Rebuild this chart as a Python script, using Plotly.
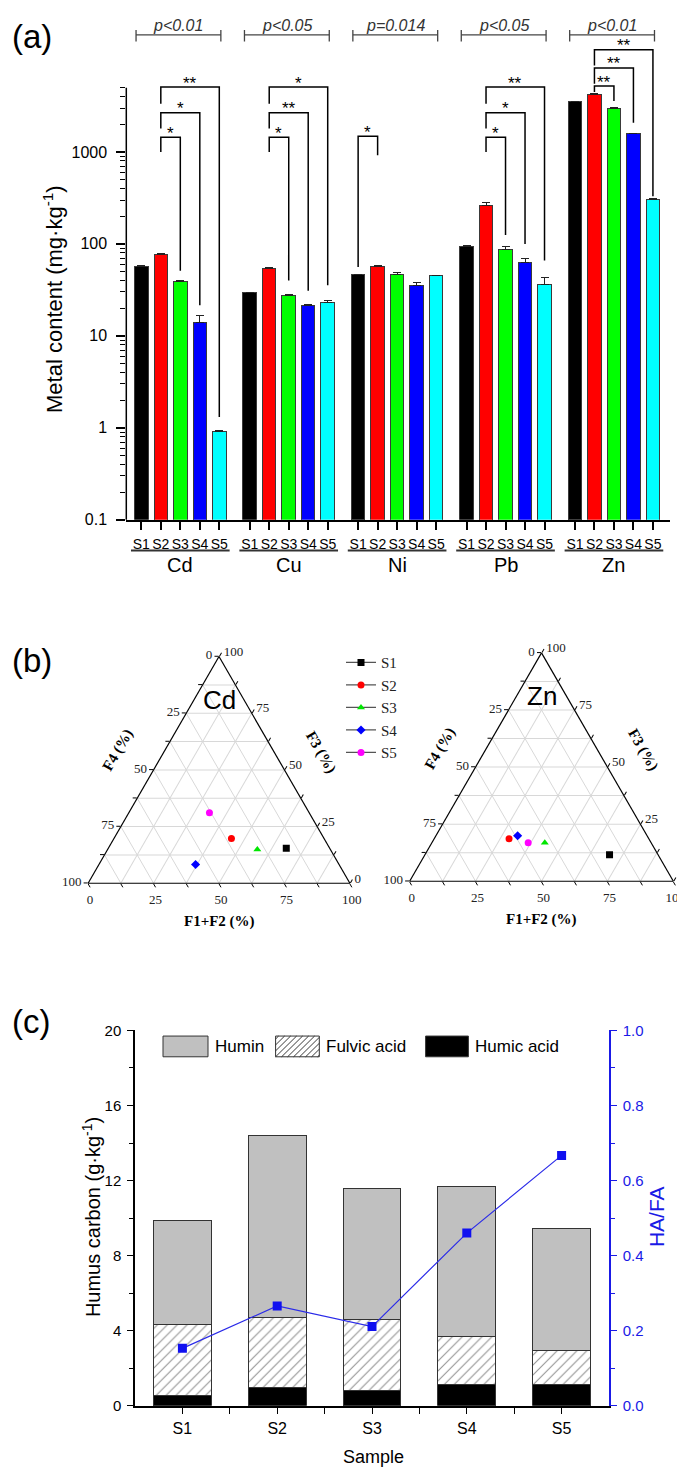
import numpy as np
import plotly.graph_objects as go

W, H = 685, 1468
SANS = 'Liberation Sans'
SERIF = 'Liberation Serif'

# ---------------- data: (a) metal content (mg/kg) ----------------
metals = ['Cd', 'Cu', 'Ni', 'Pb', 'Zn']
samples = ['S1', 'S2', 'S3', 'S4', 'S5']
S1_content = [56.7, 29.6, 45.9, 94.6, 3510]
S2_content = [77.6, 54.6, 56.7, 263, 4170]
S3_content = [39.2, 27.5, 46.2, 87.9, 3000]
S4_content = [14.0, 21.3, 35.5, 62.7, 1580]
S5_content = [0.906, 22.8, 44.8, 36.1, 303]
S1_err = [0.8, 0.3, 0.5, 1.0, 40]
S2_err = [0.8, 0.8, 0.8, 16, 180]
S3_err = [1.0, 0.5, 2.3, 6, 40]
S4_err = [2.5, 0.5, 3.0, 7, 20]
S5_err = [0.02, 1.3, 0.6, 6.5, 5]
p_labels = ['p<0.01', 'p<0.05', 'p=0.014', 'p<0.05', 'p<0.01']
# (metal idx, sample from, sample to, bracket height, leg-end at "from", leg-end at "to", label)
sig_brackets = [
    (0, 1, 2, 1440, 1000, 51, '*'),
    (0, 1, 3, 2670, 1800, 21.5, '*'),
    (0, 1, 4, 5080, 3340, 1.31, '**'),
    (1, 1, 2, 1440, 1000, 40, '*'),
    (1, 1, 3, 2670, 1800, 31, '**'),
    (1, 1, 4, 5080, 3340, 35.5, '*'),
    (2, 0, 1, 1485, 56, 922, '*'),
    (3, 1, 2, 1440, 1000, 125, '*'),
    (3, 1, 3, 2670, 1800, 100, '*'),
    (3, 1, 4, 5080, 3340, 66, '**'),
    (4, 1, 2, 5200, 4490, 3590, '**'),
    (4, 1, 3, 8180, 5510, 2070, '**'),
    (4, 1, 4, 12900, 8690, 329, '**'),
]
y_ticks_a = [0.1, 1, 10, 100, 1000]
y_ticktext_a = ['0.1', '1', '10', '100', '1000']

# ---------------- data: (b) ternary fractions (%) ----------------
Cd_F12 = [68.0, 44.9, 57.2, 36.9, 30.8]
Cd_F3 = [15.4, 19.7, 14.9, 8.3, 31.1]
Cd_F4 = [16.6, 35.4, 27.9, 54.8, 38.1]
Zn_F12 = [70.0, 28.4, 42.8, 31.0, 36.5]
Zn_F3 = [11.6, 18.6, 16.9, 19.9, 16.9]
Zn_F4 = [18.4, 53.0, 40.3, 49.1, 46.6]
tern_tickvals = [0, 12.5, 25, 37.5, 50, 62.5, 75, 87.5, 100]
tern_ticktext = ['100', ' ', '75', ' ', '50', ' ', '25', ' ', '0']

# ---------------- data: (c) humus carbon (g/kg) ----------------
humic_acid = [0.55, 0.98, 0.79, 1.14, 1.14]
fulvic_acid = [3.77, 3.72, 3.79, 2.56, 1.79]
humin = [5.56, 9.69, 7.00, 7.98, 6.54]
ha_fa = [0.153, 0.266, 0.211, 0.460, 0.667]
y_ticks_c = [0, 4, 8, 12, 16, 20]

# ---------------- styles / layout helpers ----------------
bar_colors = ['#000000', '#ff0000', '#00ff00', '#0000ff', '#00ffff']
tern_colors = ['#000000', '#ff0000', '#00e600', '#0000ff', '#ff00ff']
tern_symbols = ['square', 'circle', 'triangle-up', 'diamond', 'circle']
GROUP_STEP = 5.56


def px_x(v):
    return v / W


def px_y(v):
    return 1 - v / H


def xpos(g, s):
    return g * GROUP_STEP + s


def note(x, y, text, size, family=SANS, color='black', angle=0, xanchor='center'):
    return dict(x=px_x(x), y=px_y(y), xref='paper', yref='paper', text=text,
                showarrow=False, xanchor=xanchor, yanchor='middle', textangle=angle,
                font=dict(size=size, family=family, color=color))


fig = go.Figure()
annotations = []
shapes = []

# ================= panel (a) =================
contents = [S1_content, S2_content, S3_content, S4_content, S5_content]
errs = [S1_err, S2_err, S3_err, S4_err, S5_err]
for s, name in enumerate(samples):
    fig.add_trace(go.Bar(
        x=[xpos(g, s) for g in range(len(metals))], y=contents[s], width=0.69,
        name=name, showlegend=False, xaxis='x', yaxis='y',
        marker=dict(color=bar_colors[s], line=dict(color='#3a3a3a', width=1)),
        error_y=dict(type='data', array=errs[s], arrayminus=[0] * 5, symmetric=False,
                     visible=True, color='#222', thickness=1, width=4)))

bx, by = [], []
for g, a, b, top, ea, eb, lab in sig_brackets:
    xa, xb = xpos(g, a), xpos(g, b)
    bx += [xa, xa, xb, xb, None]
    by += [ea, top, top, eb, None]
    annotations.append(dict(x=(xa + xb) / 2, y=np.log10(top), xref='x', yref='y',
                            text=lab, showarrow=False, xanchor='center', yanchor='middle',
                            yshift=4, font=dict(size=17, family=SANS, color='black')))
fig.add_trace(go.Scatter(x=bx, y=by, mode='lines', line=dict(color='black', width=1.5),
                         xaxis='x', yaxis='y', showlegend=False, hoverinfo='skip'))

P_LINE, P_T0, P_T1, P_TXT = 4.272, 4.20, 4.325, 4.377
pxs, pys = [], []
for g in range(len(metals)):
    x0, x1 = xpos(g, 0) - 0.27, xpos(g, 4) + 0.08
    pxs += [x0, x0, None, x0, x1, None, x1, x1, None]
    pys += [10 ** P_T0, 10 ** P_T1, None, 10 ** P_LINE, 10 ** P_LINE, None,
            10 ** P_T0, 10 ** P_T1, None]
    annotations.append(dict(x=(x0 + x1) / 2, y=P_TXT, xref='x', yref='y',
                            text='<i>' + p_labels[g] + '</i>', showarrow=False,
                            xanchor='center', yanchor='middle',
                            font=dict(size=16, family=SANS, color='#333')))
    # group label + underline
    shapes.append(dict(type='line', xref='x', yref='paper',
                       x0=xpos(g, 0) - 0.53, x1=xpos(g, 4) + 0.53,
                       y0=px_y(540), y1=px_y(540), line=dict(color='#333', width=2)))
    annotations.append(dict(x=xpos(g, 2), y=px_y(555), xref='x', yref='paper',
                            text=metals[g], showarrow=False, xanchor='center', yanchor='middle',
                            font=dict(size=20, family=SANS, color='black')))
fig.add_trace(go.Scatter(x=pxs, y=pys, mode='lines', line=dict(color='#444', width=1.3),
                         xaxis='x', yaxis='y', showlegend=False, hoverinfo='skip'))

# y axis line of (a)
shapes.append(dict(type='line', xref='paper', yref='paper', x0=px_x(118.3), x1=px_x(118.3),
                   y0=px_y(509), y1=px_y(71.7), line=dict(color='black', width=1.5)))

minor_a = [k * 10.0 ** d for d in range(-1, 3) for k in range(2, 10)] + [2000, 3000, 4000, 5000]

annotations.append(note(45.5, 286, 'Metal content (mg·kg<sup>-1</sup>)', 22, angle=-90))

# ================= panel (b) ternaries =================
for s in range(5):
    fig.add_trace(go.Scatterternary(
        a=[Cd_F3[s]], b=[Cd_F4[s]], c=[Cd_F12[s]], mode='lines+markers', name=samples[s],
        subplot='ternary', showlegend=True, legendrank=s + 1,
        marker=dict(symbol=tern_symbols[s], color=tern_colors[s], size=7),
        line=dict(color='#555', width=1.3)))
    fig.add_trace(go.Scatterternary(
        a=[Zn_F3[s]], b=[Zn_F4[s]], c=[Zn_F12[s]], mode='lines+markers', name=samples[s],
        subplot='ternary2', showlegend=False,
        marker=dict(symbol=tern_symbols[s], color=tern_colors[s], size=7),
        line=dict(color='#555', width=1.3)))

tern_axis = dict(title=dict(text=''), tickmode='array', tickvals=tern_tickvals,
                 ticktext=tern_ticktext, ticks='outside', ticklen=4, tickcolor='black',
                 linecolor='black', linewidth=1.2, showgrid=True, gridcolor='#d8d8d8',
                 gridwidth=0.8, min=0,
                 tickfont=dict(family=SERIF, size=13, color='#222'))


def tern_layout(cx, base, ybot):
    h = base * np.sqrt(3) / 2
    return dict(sum=100, bgcolor='white',
                domain=dict(x=[px_x(cx - base / 2), px_x(cx + base / 2)],
                            y=[px_y(ybot), px_y(ybot - h)]),
                aaxis=tern_axis, baxis=tern_axis, caxis=tern_axis)


tern_geo = [(211.0, 265.0, 877.0, 'Cd'), (533.5, 267.0, 875.0, 'Zn')]
for cx, base, ybot, lab in tern_geo:
    h = base * np.sqrt(3) / 2
    annotations.append(note(cx, ybot - h + 44, lab, 26))
    annotations.append(note(cx - 101, ybot - 134, '<b>F4 (%)</b>', 15, SERIF, angle=-60))
    annotations.append(note(cx + 101, ybot - 133, '<b>F3 (%)</b>', 15, SERIF, angle=60))
    annotations.append(note(cx, ybot + 39, '<b>F1+F2 (%)</b>', 15, SERIF))

# ================= panel (c) =================
xc = [1, 2, 3, 4, 5]
bar_line = dict(color='#333', width=1)
fig.add_trace(go.Bar(x=xc, y=humic_acid, name='Humic acid', width=0.61, xaxis='x2', yaxis='y2',
                     showlegend=False, marker=dict(color='black', line=bar_line)))
fig.add_trace(go.Bar(x=xc, y=fulvic_acid, name='Fulvic acid', width=0.61, xaxis='x2', yaxis='y2',
                     showlegend=False,
                     marker=dict(color='white', line=bar_line,
                                 pattern=dict(shape='/', fgcolor='#222', bgcolor='white',
                                              size=7, solidity=0.15))))
fig.add_trace(go.Bar(x=xc, y=humin, name='Humin', width=0.61, xaxis='x2', yaxis='y2',
                     showlegend=False, marker=dict(color='#c0c0c0', line=bar_line)))
fig.add_trace(go.Scatter(x=xc, y=ha_fa, name='HA/FA', mode='lines+markers', xaxis='x2', yaxis='y3',
                         showlegend=False, line=dict(color='#2b2be8', width=1.2),
                         marker=dict(symbol='square', size=9, color='#1010f0')))

# manual legend for (c)
LEG_Y0, LEG_Y1 = 1031.7, 1052.7
legend_items = [('Humin', 155.0, 200.0, 'solid', '#c0c0c0'),
                ('Fulvic acid', 267.6, 311.3, 'hatch', 'white'),
                ('Humic acid', 417.6, 460.4, 'solid', 'black')]
for name, x0, x1, kind, col in legend_items:
    shapes.append(dict(type='rect', xref='paper', yref='paper', x0=px_x(x0), x1=px_x(x1),
                       y0=px_y(LEG_Y1), y1=px_y(LEG_Y0), fillcolor=col,
                       line=dict(color='#333', width=1)))
    if kind == 'hatch':
        path = ''
        k = x0 + LEG_Y0 + 3
        while k < x1 + LEG_Y1:
            ylo = max(LEG_Y0, k - x1)
            yhi = min(LEG_Y1, k - x0)
            if yhi - ylo > 0.5:
                path += 'M{:.5f},{:.5f} L{:.5f},{:.5f} '.format(
                    px_x(k - ylo), px_y(ylo), px_x(k - yhi), px_y(yhi))
            k += 6
        shapes.append(dict(type='path', xref='paper', yref='paper', path=path,
                           line=dict(color='#222', width=0.9)))
    annotations.append(note(x1 + 5, (LEG_Y0 + LEG_Y1) / 2, name, 17, xanchor='left'))

annotations.append(note(83, 1215, 'Humus carbon (g·kg<sup>-1</sup>)', 20, angle=-90))
annotations.append(note(648, 1215, 'HA/FA', 21, color='#1a1ae6', angle=-90))
annotations.append(note(365, 1458, 'Sample', 18))

# panel letters
for lab, yc in [('(a)', 20), ('(b)', 651), ('(c)', 1017)]:
    annotations.append(note(2, yc, lab, 33, xanchor='left'))

fig.update_layout(
    width=W, height=H, margin=dict(l=0, r=0, t=0, b=0),
    paper_bgcolor='white', plot_bgcolor='rgba(0,0,0,0)',
    font=dict(family=SANS, color='black'),
    barmode='stack',
    xaxis=dict(domain=[px_x(118.3), px_x(661.7)], range=[-0.77, 27.1], anchor='y',
               showline=True, linecolor='black', linewidth=1.5, showgrid=False, zeroline=False,
               ticks='outside', ticklen=8, tickwidth=1.5, tickcolor='black',
               tickmode='array',
               tickvals=[xpos(g, s) for g in range(5) for s in range(5)],
               ticktext=[samples[s] for g in range(5) for s in range(5)],
               tickfont=dict(size=14, family=SANS), ticklabelstandoff=3),
    yaxis=dict(type='log', domain=[px_y(509), 1.0], range=[-1, 4.4673], anchor='x',
               showline=False, showgrid=False, zeroline=False,
               ticks='outside', ticklen=9, tickwidth=1.5, tickcolor='black',
               tickmode='array', tickvals=y_ticks_a, ticktext=y_ticktext_a,
               tickfont=dict(size=16, family=SANS), ticklabelstandoff=6,
               minor=dict(ticks='outside', ticklen=5, tickwidth=1.2, tickcolor='black',
                          tickmode='array', tickvals=minor_a)),
    ternary=tern_layout(*tern_geo[0][:3]),
    ternary2=tern_layout(*tern_geo[1][:3]),
    xaxis2=dict(domain=[px_x(127), px_x(601)], range=[0.5, 5.5], anchor='y2',
                showline=True, linecolor='black', linewidth=1.5, showgrid=False, zeroline=False,
                ticks='outside', ticklen=6, tickwidth=1.3, tickcolor='black',
                tickmode='array', tickvals=xc, ticktext=samples,
                tickfont=dict(size=16, family=SANS), ticklabelstandoff=1,
                minor=dict(ticks='outside', ticklen=6, tickwidth=1.3, tickcolor='black',
                           tickmode='array', tickvals=[1.5, 2.5, 3.5, 4.5])),
    yaxis2=dict(domain=[px_y(1406), px_y(1026)], range=[0, 20], anchor='x2',
                showline=True, linecolor='black', linewidth=1.5, showgrid=False, zeroline=False,
                ticks='outside', ticklen=6, tickwidth=1.3, tickcolor='black',
                tickmode='array', tickvals=y_ticks_c,
                tickfont=dict(size=15, family=SANS), ticklabelstandoff=3,
                minor=dict(ticks='outside', ticklen=4, tickwidth=1.2, tickcolor='black',
                           tickmode='array', tickvals=[2, 6, 10, 14, 18])),
    yaxis3=dict(overlaying='y2', side='right', anchor='x2', range=[0, 1],
                showline=True, linecolor='#1a1ae6', linewidth=1.5, showgrid=False, zeroline=False,
                ticks='outside', ticklen=6, tickwidth=1.3, tickcolor='#1a1ae6',
                tickmode='linear', tick0=0, dtick=0.2, tickformat='.1f',
                tickfont=dict(size=15, family=SANS, color='#1a1ae6'), ticklabelstandoff=3,
                minor=dict(ticks='outside', ticklen=4, tickwidth=1.2, tickcolor='#1a1ae6',
                           dtick=0.1)),
    legend=dict(x=px_x(333), y=px_y(637), xanchor='left', yanchor='top',
                traceorder='normal',
                bgcolor='rgba(0,0,0,0)', borderwidth=0, tracegroupgap=0,
                font=dict(family=SERIF, size=15, color='#222')),
    annotations=annotations,
    shapes=shapes,
)

fig.write_html('out.html', config={'displayModeBar': False})
